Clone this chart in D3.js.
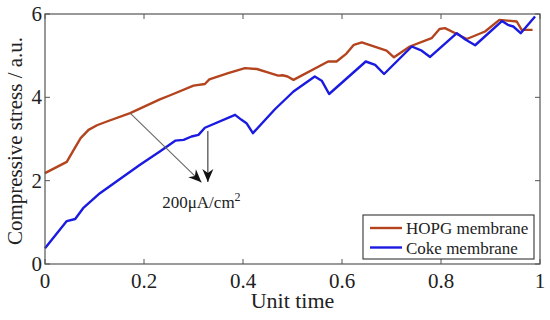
<!DOCTYPE html>
<html>
<head>
<meta charset="utf-8">
<script src="https://cdn.jsdelivr.net/npm/d3@7"></script>
<style>
  body { margin: 0; background: #fff; }
  text { font-family: "Liberation Serif", "Times New Roman", serif; fill: #222; }
</style>
</head>
<body>
<div id="chart"></div>
<script>
var widthT = 550, heightT = 320;
var margin = {top: 14, right: 10, bottom: 56, left: 45},
    width = widthT - margin.left - margin.right,
    height = heightT - margin.top - margin.bottom;

// data
var hopgT = [0, 0.044, 0.058, 0.072, 0.088, 0.105, 0.125, 0.172, 0.232, 0.253, 0.30, 0.323, 0.332, 0.37, 0.404, 0.428, 0.45, 0.471, 0.48, 0.49, 0.502, 0.572, 0.589, 0.609, 0.624, 0.64, 0.69, 0.705, 0.737, 0.781, 0.797, 0.808, 0.832, 0.852, 0.889, 0.918, 0.953, 0.963, 0.985];
var hopgV = [2.18, 2.45, 2.74, 3.02, 3.22, 3.33, 3.42, 3.62, 3.95, 4.05, 4.28, 4.32, 4.43, 4.58, 4.70, 4.68, 4.60, 4.52, 4.53, 4.50, 4.42, 4.86, 4.86, 5.05, 5.26, 5.32, 5.12, 4.96, 5.22, 5.42, 5.64, 5.66, 5.52, 5.40, 5.58, 5.86, 5.82, 5.62, 5.62];

var cokeT = [0, 0.044, 0.061, 0.077, 0.111, 0.15, 0.192, 0.232, 0.263, 0.28, 0.296, 0.31, 0.323, 0.384, 0.397, 0.407, 0.42, 0.465, 0.502, 0.545, 0.559, 0.574, 0.648, 0.667, 0.685, 0.741, 0.761, 0.778, 0.832, 0.85, 0.869, 0.923, 0.935, 0.946, 0.961, 0.99];
var cokeV = [0.38, 1.03, 1.08, 1.34, 1.70, 2.03, 2.38, 2.70, 2.96, 2.98, 3.06, 3.10, 3.27, 3.58, 3.46, 3.38, 3.14, 3.72, 4.14, 4.50, 4.40, 4.08, 4.86, 4.78, 4.56, 5.22, 5.12, 4.97, 5.54, 5.38, 5.25, 5.83, 5.74, 5.70, 5.54, 5.94];

var xTicks = [0, 0.2, 0.4, 0.6, 0.8, 1];
var yTicks = [0, 2, 4, 6];
var seriesNames = ["HOPG membrane", "Coke membrane"];
var seriesColors = ["#b3441e", "#1a1ae0"];

// annotation: arrows from the curves to the current-density label
var arrowFrom = [[0.172, 3.62], [0.329, 3.19]];
var arrowTo = [[0.316, 1.96], [0.329, 1.97]];

var svg = d3.select("#chart").append("svg")
    .attr("width", widthT)
    .attr("height", heightT);
var g = svg.append("g").attr("transform", "translate(" + margin.left + "," + margin.top + ")");

var x = d3.scaleLinear().domain([0, 1]).range([0, width]);
var y = d3.scaleLinear().domain([0, 6]).range([height, 0]);

var hopg = hopgT.map(function(t, i) { return {t: t, v: hopgV[i]}; });
var coke = cokeT.map(function(t, i) { return {t: t, v: cokeV[i]}; });

var line = d3.line()
    .x(function(d) { return x(d.t); })
    .y(function(d) { return y(d.v); });

// lines
g.append("path").datum(hopg)
    .attr("fill", "none").attr("stroke", seriesColors[0])
    .attr("stroke-width", 2.4).attr("stroke-linejoin", "round")
    .attr("d", line);
g.append("path").datum(coke)
    .attr("fill", "none").attr("stroke", seriesColors[1])
    .attr("stroke-width", 2.4).attr("stroke-linejoin", "round")
    .attr("d", line);

// arrows
var defs = svg.append("defs");
defs.append("marker")
    .attr("id", "head")
    .attr("viewBox", "-14 -7 16 14")
    .attr("refX", 0).attr("refY", 0)
    .attr("markerWidth", 16).attr("markerHeight", 14)
    .attr("markerUnits", "userSpaceOnUse")
    .attr("orient", "auto")
    .append("path")
    .attr("d", "M0,0 L-13,-5.5 L-9,0 L-13,5.5 Z")
    .attr("fill", "#111");

arrowFrom.forEach(function(a, i) {
  g.append("line")
    .attr("x1", x(a[0])).attr("y1", y(a[1]))
    .attr("x2", x(arrowTo[i][0])).attr("y2", y(arrowTo[i][1]))
    .attr("stroke", i == 0 ? "#666" : "#333")
    .attr("stroke-width", 1.1)
    .attr("marker-end", "url(#head)");
});

var lab = g.append("text")
    .attr("x", x(0.316)).attr("y", y(1.4) + 2)
    .attr("text-anchor", "middle")
    .style("font-size", "17px");
lab.append("tspan").text("200\u03bcA/cm");
lab.append("tspan").attr("dy", -7).style("font-size", "12px").text("2");

// frame and inward ticks on all sides
var axisColor = "#555";
g.append("rect")
    .attr("width", width).attr("height", height)
    .attr("fill", "none").attr("stroke", axisColor).attr("stroke-width", 1.2);

var tl = 5;
xTicks.forEach(function(t) {
  g.append("line").attr("x1", x(t)).attr("x2", x(t)).attr("y1", height).attr("y2", height - tl).attr("stroke", axisColor);
  g.append("line").attr("x1", x(t)).attr("x2", x(t)).attr("y1", 0).attr("y2", tl).attr("stroke", axisColor);
  g.append("text")
    .attr("x", x(t)).attr("y", height + 24)
    .attr("text-anchor", "middle")
    .style("font-size", "21px")
    .text(t);
});
yTicks.forEach(function(v) {
  g.append("line").attr("x1", 0).attr("x2", tl).attr("y1", y(v)).attr("y2", y(v)).attr("stroke", axisColor);
  g.append("line").attr("x1", width).attr("x2", width - tl).attr("y1", y(v)).attr("y2", y(v)).attr("stroke", axisColor);
  g.append("text")
    .attr("x", -3).attr("y", y(v) + 7)
    .attr("text-anchor", "end")
    .style("font-size", "21px")
    .text(v);
});

// axis titles
g.append("text")
    .attr("x", width / 2).attr("y", height + 44)
    .attr("text-anchor", "middle")
    .style("font-size", "22px")
    .text("Unit time");
svg.append("text")
    .attr("transform", "translate(22," + (margin.top + 127) + ") rotate(-90)")
    .attr("text-anchor", "middle")
    .style("font-size", "21px")
    .text("Compressive stress / a.u.");

// legend
var leg = g.append("g").attr("transform", "translate(" + (363 - margin.left) + "," + (215 - margin.top) + ")");
leg.append("rect")
    .attr("width", 171).attr("height", 44)
    .attr("fill", "#fff").attr("stroke", "#333").attr("stroke-width", 1.1);
seriesNames.forEach(function(n, i) {
  leg.append("line")
    .attr("x1", 7).attr("x2", 39)
    .attr("y1", 13 + i * 19.5).attr("y2", 13 + i * 19.5)
    .attr("stroke", seriesColors[i]).attr("stroke-width", 2.4);
  leg.append("text")
    .attr("x", 43).attr("y", 19 + i * 19.5)
    .style("font-size", "17px")
    .text(n);
});
</script>
</body>
</html>
